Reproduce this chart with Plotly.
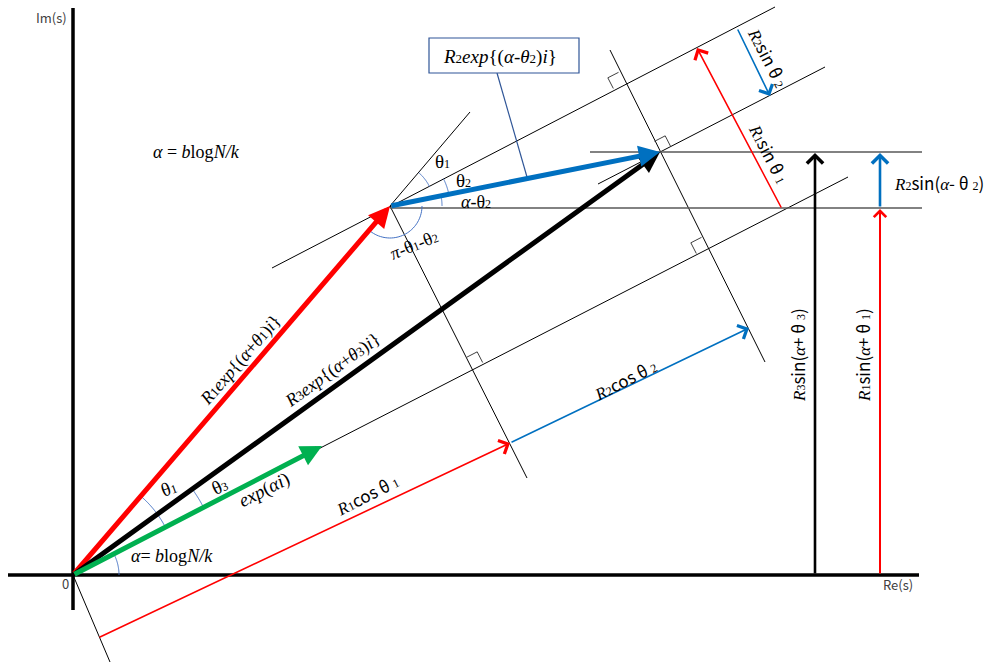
import numpy as np
import plotly.graph_objects as go

W, H = 992, 664

# ---------------- geometry (diagram coordinates, y grows downward) ----------------
O = (73, 575)          # origin
P1 = (390, 206)        # tip of R1 exp{(a+t1)i}
P3 = (660, 152)        # tip of R3 exp{(a+t3)i}
G = (322, 446)         # tip of exp(ai)

axis_x = [(8, 575), (919, 575)]
axis_y = [(73, 8), (73, 610)]

# thin construction lines
thin_lines = [
    [(73, 575), (848, 177)],    # alpha direction through O
    [(272, 268), (775, 7)],     # alpha direction through P1
    [(598, 184), (825, 67)],    # alpha direction through P3
    [(390, 206), (470, 112)],   # extension of R1 vector
    [(390, 206), (527, 478)],   # perpendicular through P1
    [(610, 50), (765, 362)],    # perpendicular through P3
    [(73, 575), (110, 662)],    # perpendicular through O
]
gray_lines = [
    [(590, 152), (922, 152)],
    [(390, 208), (922, 208)],
]
callout_line = [(497, 73), (527, 177)]
callout_box = [(429, 38), (579, 73)]

# thick vectors: (tail, head, colour)
vectors = [
    (O, P1, "#FF0000"),
    (O, P3, "#000000"),
    (O, G, "#00B050"),
    (P1, P3, "#0070C0"),
]
# thin measurement arrows: (tail, head, colour, width)
thin_arrows = [
    ((98, 638), (510, 443), "#FF0000", 1.6),
    ((510, 443), (749, 328), "#0070C0", 1.6),
    ((782, 209), (697, 48), "#FF0000", 1.6),
    ((737, 28), (770, 96), "#0070C0", 1.6),
    ((815, 575), (815, 153), "#000000", 2.6),
    ((880, 575), (880, 209), "#FF0000", 2.0),
    ((880, 208), (880, 153), "#0070C0", 2.6),
]
# angle arcs: (centre, radius, start deg, end deg) - maths convention
arcs = [
    (P1, 44, 49, 26),
    (P1, 60, 27, 11),
    (P1, 52, 11, 0),
    (P1, 32, 0, -131),
    (O, 104, 49, 28),
    (O, 147, 36, 27),
    (O, 46, 27, 0),
]
# right-angle marks: (corner, sign along alpha)
right_angles = [
    ((472, 368), 1),
    ((707, 248), -1),
    ((624, 83), -1),
    ((660, 152), 1),
]

ARC = "#4472C4"


def S(t):
    return f'<span style="font-family:Noto Sans CJK JP">{t}</span>'


def sub(t, px=12):
    return f'<span style="font-size:{px}px">{t}</span>'


labels = [
    # (x, y, text, angle, size, colour)
    (196, 152, "<i>α</i> = <i>b</i>log<i>N/k</i>", 0, 18, "#000"),
    (500, 57, "<i>R</i>" + sub("2", 13) + "<i>exp</i>{(<i>α</i>-<i>θ</i>" + sub("2", 13) + ")<i>i</i>}", 0, 19, "#000"),
    (442, 161, "θ" + sub("1"), 0, 19, "#000"),
    (463, 180, "θ" + sub("2"), 0, 19, "#000"),
    (476, 202, "<i>α</i>-θ" + sub("2"), 0, 18, "#000"),
    (414, 245, "<i>π</i>-θ" + sub("1") + "-θ" + sub("2"), -22, 18, "#000"),
    (168, 488, "θ" + sub("1"), -20, 19, "#000"),
    (219, 486, "θ" + sub("3"), -25, 19, "#000"),
    (264, 490, "<i>exp</i>(<i>αi</i>)", -27, 19, "#000"),
    (172, 556, "<i>α</i>= <i>b</i>log<i>N/k</i>", 0, 18, "#000"),
    (240, 360, "<i>R</i>" + sub("1", 13) + "<i>exp</i>{(<i>α</i>+<i>θ</i>" + sub("1", 13) + ")<i>i</i>}", -49, 18, "#000"),
    (332, 370, "<i>R</i>" + sub("3", 13) + "<i>exp</i>{(<i>α</i>+<i>θ</i>" + sub("3", 13) + ")<i>i</i>}", -36, 18, "#000"),
    (366, 494, "<i>R</i>" + sub("1") + S("cos θ ") + sub("1"), -27, 17, "#000"),
    (624, 379, "<i>R</i>" + sub("2") + S("cos θ ") + sub("2"), -27, 17, "#000"),
    (769, 57, "<i>R</i>" + sub("2") + S("sin θ ") + sub("2"), 63, 17, "#000"),
    (770, 153, "<i>R</i>" + sub("1") + S("sin θ ") + sub("1"), 63, 17, "#000"),
    (939, 182, "<i>R</i>" + sub("2") + S("sin(") + "<i>α</i>" + S("- θ ") + sub("2") + S(")"), 0, 17, "#000"),
    (797, 355, "<i>R</i>" + sub("3") + S("sin(") + "<i>α</i>" + S("+ θ ") + sub("3") + S(")"), -90, 17, "#000"),
    (862, 355, "<i>R</i>" + sub("1") + S("sin(") + "<i>α</i>" + S("+ θ ") + sub("1") + S(")"), -90, 17, "#000"),
]
axis_labels = [
    (51, 17, "Im(s)"),
    (898, 584, "Re(s)"),
    (65, 583, "0"),
]

# ---------------- figure ----------------
fig = go.Figure()
shapes = []


def line(p, q, color, width):
    shapes.append(dict(type="line", xref="x", yref="y", x0=p[0], y0=p[1], x1=q[0], y1=q[1],
                       line=dict(color=color, width=width)))


for p, q in thin_lines:
    line(p, q, "#000000", 1)
for p, q in gray_lines:
    line(p, q, "#595959", 1.6)
line(callout_line[0], callout_line[1], "#2F5597", 1.2)
shapes.append(dict(type="rect", xref="x", yref="y", x0=callout_box[0][0], y0=callout_box[0][1],
                   x1=callout_box[1][0], y1=callout_box[1][1], line=dict(color="#2F5597", width=1.2),
                   fillcolor="white"))

line(axis_x[0], axis_x[1], "#000000", 3.5)
line(axis_y[0], axis_y[1], "#000000", 3.5)

for c, r, a0, a1 in arcs:
    t = np.radians(np.linspace(a0, a1, 40))
    xs = c[0] + r * np.cos(t)
    ys = c[1] - r * np.sin(t)
    path = "M " + " L ".join(f"{x:.2f},{y:.2f}" for x, y in zip(xs, ys))
    shapes.append(dict(type="path", xref="x", yref="y", path=path, line=dict(color=ARC, width=1)))

# alpha direction and its perpendicular (from the alpha line through O)
d = np.array(thin_lines[0][1], float) - np.array(thin_lines[0][0], float)
v = d / np.linalg.norm(d)
u = np.array([v[1], -v[0]])  # perpendicular pointing "up"
s = 12
for corner, sg in right_angles:
    I = np.array(corner, float)
    a = I + s * u
    b = I + s * u + sg * s * v
    c = I + sg * s * v
    shapes.append(dict(type="path", xref="x", yref="y",
                       path=f"M {a[0]:.2f},{a[1]:.2f} L {b[0]:.2f},{b[1]:.2f} L {c[0]:.2f},{c[1]:.2f}",
                       line=dict(color="#404040", width=1)))

annotations = []
for tail, head, col, w in thin_arrows:
    annotations.append(dict(x=head[0], y=head[1], ax=tail[0], ay=tail[1], xref="x", yref="y",
                            axref="x", ayref="y", text="", showarrow=True, arrowhead=4,
                            arrowsize=1.8 if w < 2 else 1.2, arrowwidth=w, arrowcolor=col, standoff=0))
for tail, head, col in vectors:
    annotations.append(dict(x=head[0], y=head[1], ax=tail[0], ay=tail[1], xref="x", yref="y",
                            axref="x", ayref="y", text="", showarrow=True, arrowhead=2,
                            arrowsize=0.85, arrowwidth=5, arrowcolor=col, standoff=0))

for x, y, t, ang, sz, col in labels:
    annotations.append(dict(x=x, y=y, xref="x", yref="y", text=t, showarrow=False, textangle=ang,
                            xanchor="center", yanchor="middle",
                            font=dict(family="Liberation Serif", size=sz, color=col)))
for x, y, t in axis_labels:
    annotations.append(dict(x=x, y=y, xref="x", yref="y", text=t, showarrow=False,
                            xanchor="center", yanchor="middle",
                            font=dict(family="Noto Sans CJK JP", size=13, color="#404040")))

fig.update_layout(
    width=W, height=H, margin=dict(l=0, r=0, t=0, b=0),
    paper_bgcolor="white", plot_bgcolor="white", showlegend=False,
    xaxis=dict(range=[0, W], visible=False, fixedrange=True),
    yaxis=dict(range=[H, 0], visible=False, fixedrange=True),
    shapes=shapes, annotations=annotations,
)
fig.write_html("out.html")
